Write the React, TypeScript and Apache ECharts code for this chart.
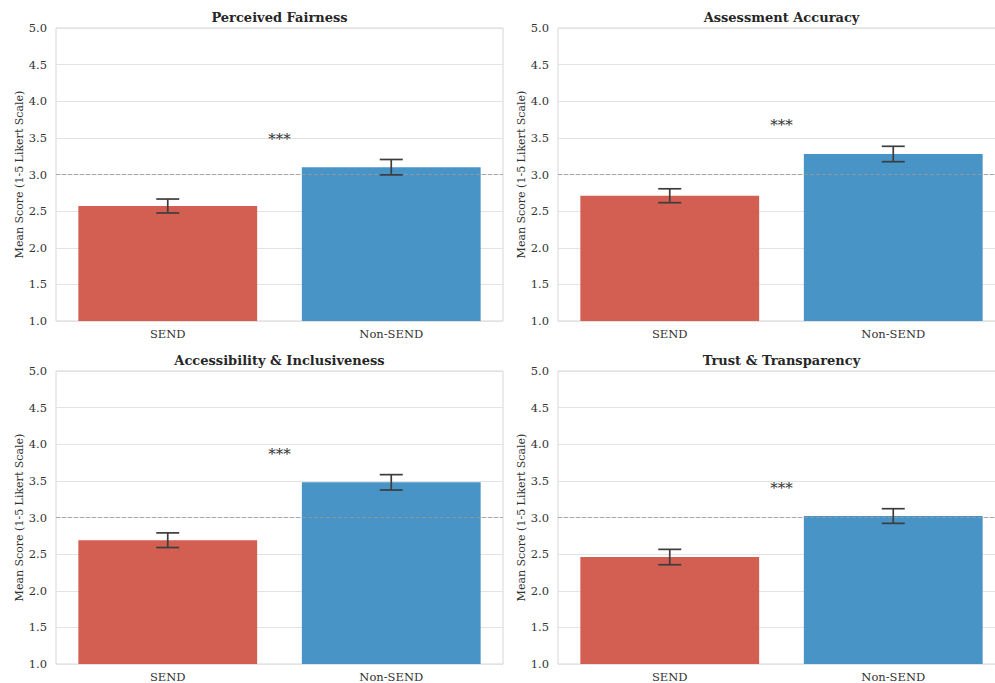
import React, { useEffect, useRef } from "react";
import * as echarts from "echarts";

// Survey comparison: SEND vs Non-SEND students across four dimensions
const categories = ["SEND", "Non-SEND"];
const panelTitles = [
  "Perceived Fairness",
  "Assessment Accuracy",
  "Accessibility & Inclusiveness",
  "Trust & Transparency",
];
const sendMeans = [2.57, 2.71, 2.69, 2.46];
const nonSendMeans = [3.1, 3.28, 3.48, 3.02];
const sendErrors = [0.095, 0.095, 0.1, 0.105];
const nonSendErrors = [0.105, 0.105, 0.105, 0.1];
const significance = ["***", "***", "***", "***"];
const neutralLevel = 3.0;
const yMin = 1;
const yMax = 5;
const yStep = 0.5;
const yAxisTitle = "Mean Score (1-5 Likert Scale)";

const SERIF = '"DejaVu Serif", "Liberation Serif", serif';
const RED = "#d25f52";
const BLUE = "#4994c6";
const ERR = "#3d3d3d";

// the figure is a little wider than the visible frame; the right column is cut at the edge
const FIG_W = 1012;
const FIG_H = 683;

const grids = [
  { left: 56, top: 28, width: 447, height: 293 },
  { left: 558, top: 28, width: 447, height: 293 },
  { left: 56, top: 371, width: 447, height: 293 },
  { left: 558, top: 371, width: 447, height: 293 },
];

function buildOption() {
  const title: any[] = [];
  const grid: any[] = [];
  const xAxis: any[] = [];
  const yAxis: any[] = [];
  const series: any[] = [];

  panelTitles.forEach((name, i) => {
    const g = grids[i];
    grid.push({
      ...g,
      show: true,
      borderColor: "#d6d6d6",
      borderWidth: 1,
      backgroundColor: "#ffffff",
      containLabel: false,
    });
    title.push({
      text: name,
      left: g.left + g.width / 2,
      top: g.top - 17,
      padding: 0,
      textAlign: "center",
      textStyle: {
        fontFamily: SERIF,
        fontSize: 13,
        fontWeight: "bold",
        color: "#262626",
      },
    });
    xAxis.push({
      type: "category",
      gridIndex: i,
      data: categories,
      axisLine: { show: false },
      axisTick: { show: false },
      splitLine: { show: false },
      axisLabel: {
        fontFamily: SERIF,
        fontSize: 11.5,
        color: "#333333",
        margin: 7,
      },
    });
    yAxis.push({
      type: "value",
      gridIndex: i,
      min: yMin,
      max: yMax,
      interval: yStep,
      axisLine: { show: false },
      axisTick: { show: false },
      splitLine: { lineStyle: { color: "#e2e2e2", width: 1 } },
      axisLabel: {
        fontFamily: SERIF,
        fontSize: 11.5,
        color: "#333333",
        margin: 9,
        formatter: (v: number) => v.toFixed(1),
      },
      name: yAxisTitle,
      nameLocation: "middle",
      nameGap: 31,
      nameTextStyle: { fontFamily: SERIF, fontSize: 11, color: "#333333" },
    });

    series.push({
      type: "bar",
      xAxisIndex: i,
      yAxisIndex: i,
      barCategoryGap: "20%",
      data: [
        { value: sendMeans[i], itemStyle: { color: RED } },
        { value: nonSendMeans[i], itemStyle: { color: BLUE } },
      ],
      markLine: {
        silent: true,
        symbol: "none",
        label: { show: false },
        lineStyle: { type: [4, 2], color: "#9a9a9a", width: 1, opacity: 0.8 },
        data: [{ yAxis: neutralLevel }],
      },
      z: 2,
    });

    // error bars with caps
    series.push({
      type: "custom",
      xAxisIndex: i,
      yAxisIndex: i,
      z: 5,
      encode: { x: 0, y: [1, 2] },
      data: [
        [0, sendMeans[i] - sendErrors[i], sendMeans[i] + sendErrors[i]],
        [1, nonSendMeans[i] - nonSendErrors[i], nonSendMeans[i] + nonSendErrors[i]],
      ],
      renderItem: (params: any, api: any) => {
        const x = api.value(0);
        const lo = api.coord([x, api.value(1)]);
        const hi = api.coord([x, api.value(2)]);
        const half = 11.5;
        const style = { stroke: ERR, lineWidth: 1.7, fill: "none" };
        return {
          type: "group",
          children: [
            { type: "line", shape: { x1: lo[0], y1: lo[1], x2: hi[0], y2: hi[1] }, style },
            { type: "line", shape: { x1: hi[0] - half, y1: hi[1], x2: hi[0] + half, y2: hi[1] }, style },
            { type: "line", shape: { x1: lo[0] - half, y1: lo[1], x2: lo[0] + half, y2: lo[1] }, style },
          ],
        };
      },
    });

    // significance marker above the taller error bar
    const sigY = Math.max(sendMeans[i] + sendErrors[i], nonSendMeans[i] + nonSendErrors[i]) + 0.3;
    series.push({
      type: "custom",
      xAxisIndex: i,
      yAxisIndex: i,
      z: 6,
      encode: { x: 0, y: 1 },
      data: [[0, sigY]],
      renderItem: (params: any, api: any) => {
        const y = api.value(1);
        const p0 = api.coord([0, y]);
        const p1 = api.coord([1, y]);
        return {
          type: "text",
          x: (p0[0] + p1[0]) / 2,
          y: p0[1] + 1,
          style: {
            text: significance[i],
            fill: "#333333",
            font: `15px ${SERIF}`,
            align: "center",
            verticalAlign: "middle",
          },
        };
      },
    });
  });

  return {
    animation: false,
    backgroundColor: "#ffffff",
    title,
    grid,
    xAxis,
    yAxis,
    series,
  };
}

export default function App() {
  const ref = useRef<HTMLDivElement>(null);

  useEffect(() => {
    if (!ref.current) return;
    const chart = echarts.init(ref.current, undefined, { renderer: "svg" });
    chart.setOption(buildOption() as any);
    return () => chart.dispose();
  }, []);

  return (
    <div
      style={{
        position: "absolute",
        left: 0,
        top: 0,
        width: 995,
        height: 683,
        overflow: "hidden",
        background: "#ffffff",
      }}
    >
      <div ref={ref} style={{ width: FIG_W, height: FIG_H }} />
    </div>
  );
}
